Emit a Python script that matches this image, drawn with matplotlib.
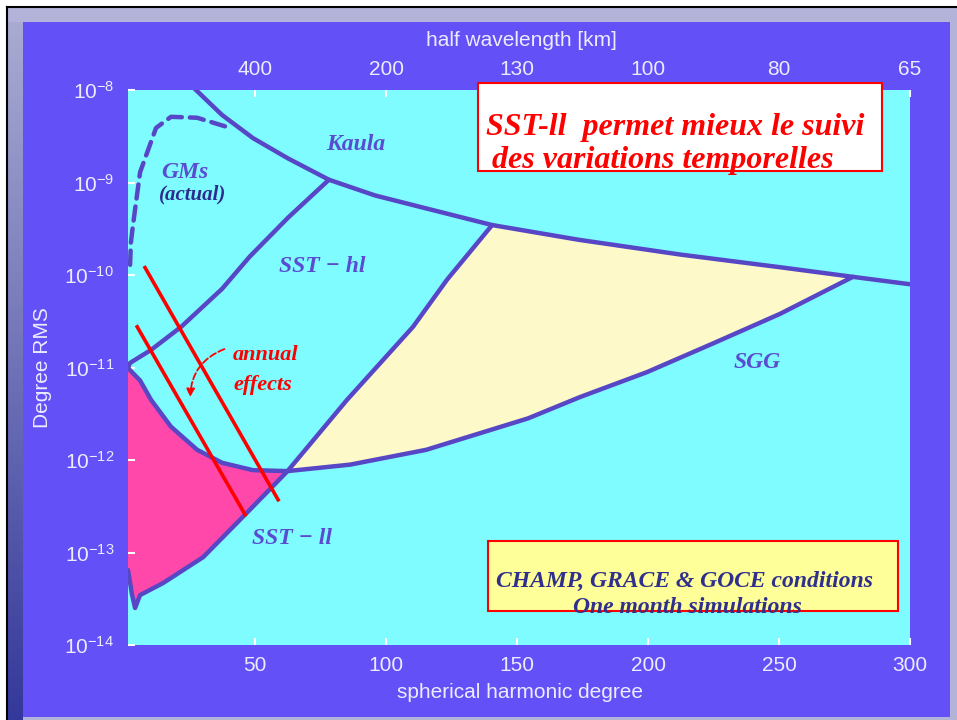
import numpy as np
import matplotlib
matplotlib.use('Agg')
import matplotlib.pyplot as plt
from matplotlib.patches import Rectangle

W, H = 957, 720

# curves: spherical harmonic degree vs log10(degree RMS)
kaula_deg = [20, 25.6, 37.4, 49.2, 62.6, 78.2, 95.8, 115.3, 140.5, 173.7, 212.6, 251.5,
             278.2, 300]
kaula_log = [-7.8, -7.95, -8.27, -8.52, -8.74, -8.97, -9.14, -9.28, -9.46, -9.62, -9.78,
             -9.92, -10.02, -10.10]

gms_deg = [2.3, 2.6, 3.4, 6.1, 12.2, 17.9, 27.9, 40.5]
gms_log = [-9.89, -9.65, -9.46, -8.89, -8.41, -8.29, -8.30, -8.41]

ssthl_deg = [1.8, 2.3, 10.3, 21.8, 37.4, 48.0, 62.6, 78.2]
ssthl_log = [-10.98, -10.95, -10.81, -10.56, -10.15, -9.80, -9.38, -8.97]

sgg_deg = [1.5, 2.3, 6.1, 10.3, 17.9, 27.9, 37.4, 49.2, 62.4, 86.3, 115.3, 135.9, 154.2,
           174, 199.6, 224.8, 250.4, 278.2]
sgg_log = [-11.0, -11.03, -11.14, -11.35, -11.64, -11.89, -12.03, -12.11, -12.12, -12.05,
           -11.89, -11.71, -11.55, -11.32, -11.05, -10.74, -10.42, -10.02]

sstll_deg = [1.5, 3.0, 4.2, 6.1, 14.9, 30.2, 46.9, 62.4, 85.1, 110.3, 123.3, 140.5]
sstll_log = [-13.19, -13.45, -13.6, -13.46, -13.33, -13.05, -12.57, -12.12, -11.35,
             -10.56, -10.05, -9.46]

# red "annual effects" lines
annual_hi_deg = [8.0, 58.8]
annual_hi_log = [-9.92, -12.43]
annual_lo_deg = [5.0, 46.2]
annual_lo_log = [-10.56, -12.59]

bottom_ticks = [50, 100, 150, 200, 250, 300]
top_labels = ['400', '200', '130', '100', '80', '65']

LINE = '#5746c6'
CYAN = '#7ffcff'
PINK = '#ff48aa'
YELLOW = '#fdf9c8'
PANEL = '#6351f7'
FRAME = '#b3b3d9'
TXT = '#ecebff'
SERIF = 'Liberation Serif'
SANS = 'Liberation Sans'

p = lambda v: list(10.0 ** np.asarray(v))

fig = plt.figure(figsize=(W / 100, H / 100), dpi=100)
fig.patch.set_facecolor('white')

# slide frame
fig.patches.append(Rectangle((7 / W, 0), 1 - 7 / W, 1 - 7 / H, transform=fig.transFigure,
                             facecolor=FRAME, edgecolor='none', zorder=-5))
grad_ax = fig.add_axes([8 / W, 0, 15 / W, 1 - 22 / H], zorder=-4)
grad = np.linspace(0, 1, 256)[:, None]
cmap = matplotlib.colors.LinearSegmentedColormap.from_list('g', ['#34389a', '#a9abd2'])
grad_ax.imshow(grad, aspect='auto', cmap=cmap, origin='lower')
grad_ax.axis('off')
fig.lines.append(plt.Line2D([7 / W, 1], [1 - 7 / H, 1 - 7 / H], transform=fig.transFigure,
                            color='black', lw=1.5, zorder=-3))
fig.lines.append(plt.Line2D([7 / W, 7 / W], [0, 1 - 7 / H], transform=fig.transFigure,
                            color='black', lw=1.5, zorder=-3))
fig.patches.append(Rectangle((23 / W, 3 / H), 927 / W, 695 / H, transform=fig.transFigure,
                             facecolor=PANEL, edgecolor='none', zorder=-2))

ax = fig.add_axes([128 / W, 75 / H, 782 / W, 555 / H], zorder=1)
ax.set_facecolor(CYAN)
ax.set_yscale('log')
ax.set_xlim(1.5, 300)
ax.set_ylim(1e-14, 1e-8)

# filled regions: pink between SGG and SST-ll up to their crossing,
# yellow between SST-ll, Kaula and SGG beyond it
ig = sgg_deg.index(62.4)
il = sstll_deg.index(62.4)
ik0 = kaula_deg.index(140.5)
ik1 = kaula_deg.index(278.2)
ax.fill(sgg_deg[:ig + 1] + sstll_deg[:il + 1][::-1],
        p(sgg_log[:ig + 1]) + p(sstll_log[:il + 1][::-1]),
        color=PINK, lw=0, zorder=1)
ax.fill(sstll_deg[il:] + kaula_deg[ik0:ik1 + 1] + sgg_deg[ig:][::-1],
        p(sstll_log[il:]) + p(kaula_log[ik0:ik1 + 1]) + p(sgg_log[ig:][::-1]),
        color=YELLOW, lw=0, zorder=1)

lw = 3.2
for xs, ys in [(kaula_deg, kaula_log), (ssthl_deg, ssthl_log),
               (sgg_deg, sgg_log), (sstll_deg, sstll_log)]:
    ax.plot(xs, p(ys), color=LINE, lw=lw, zorder=3, solid_joinstyle='round',
            solid_capstyle='round')
ax.plot(gms_deg, p(gms_log), color=LINE, lw=lw, ls=(0, (3.2, 1.8)), zorder=3,
        dash_capstyle='round', dash_joinstyle='round')

ax.plot(annual_hi_deg, p(annual_hi_log), color='#ff0000', lw=2.6, zorder=4)
ax.plot(annual_lo_deg, p(annual_lo_log), color='#ff0000', lw=2.6, zorder=4)
ax.annotate('', xy=(25.2, 10 ** -11.35), xytext=(39.3, 10 ** -10.79),
            arrowprops=dict(arrowstyle='-|>', color='#ff0000', lw=1.3, ls='--',
                            connectionstyle='arc3,rad=0.35', mutation_scale=12),
            zorder=4)

# ticks
ax.set_xticks(bottom_ticks)
ax.set_xticklabels([str(t) for t in bottom_ticks])
ax.tick_params(axis='x', which='both', direction='in', colors='white', labelcolor=TXT,
               labelsize=15, pad=8, length=5, width=1.5)
ax.tick_params(axis='y', which='major', direction='in', colors='white', labelcolor=TXT,
               labelsize=15, pad=10, length=5, width=1.5)
ax.tick_params(axis='y', which='minor', length=0)
for lab in ax.get_xticklabels() + ax.get_yticklabels():
    lab.set_family(SANS)
for s in ax.spines.values():
    s.set_visible(False)

top = ax.twiny()
top.set_xlim(ax.get_xlim())
top.set_xticks(bottom_ticks)
top.set_xticklabels(top_labels, family=SANS)
top.tick_params(axis='x', direction='in', colors='white', labelcolor=TXT, labelsize=15,
                pad=8, length=5, width=1.5)
for s in top.spines.values():
    s.set_visible(False)

# axis titles
fig.text(521 / W, 1 - 40 / H, 'half wavelength [km]', color=TXT, family=SANS, fontsize=15,
         ha='center', va='center')
fig.text(520 / W, 1 - 692 / H, 'spherical harmonic degree', color=TXT, family=SANS,
         fontsize=15, ha='center', va='center')
fig.text(43 / W, 1 - 368 / H, 'Degree RMS', color=TXT, family=SANS, fontsize=15,
         rotation=90, ha='center', va='center')

# curve labels
lab_kw = dict(family=SERIF, style='italic', weight='bold', color='#5a4cd0', fontsize=17,
              ha='center', va='center')
fig.text(356 / W, 1 - 145 / H, 'Kaula', **lab_kw)
fig.text(185 / W, 1 - 172 / H, 'GMs', **lab_kw)
fig.text(193 / W, 1 - 194 / H, '(actual)', family=SERIF, style='italic', weight='bold',
         color='#2c2c90', fontsize=15, ha='center', va='center')
fig.text(322 / W, 1 - 267 / H, 'SST \u2212 hl', **lab_kw)
fig.text(757 / W, 1 - 362 / H, 'SGG', **lab_kw)
fig.text(292 / W, 1 - 539 / H, 'SST \u2212 ll', **lab_kw)
fig.text(233 / W, 1 - 355 / H, 'annual', family=SERIF, style='italic', weight='bold',
         color='#ff0000', fontsize=16, ha='left', va='center')
fig.text(233 / W, 1 - 385 / H, 'effects', family=SERIF, style='italic', weight='bold',
         color='#ff0000', fontsize=16, ha='left', va='center')

# message boxes
fig.patches.append(Rectangle((478 / W, 1 - 171 / H), 404 / W, 88 / H,
                             transform=fig.transFigure, facecolor='white',
                             edgecolor='#ff0000', lw=1.5, zorder=5))
box_kw = dict(family=SERIF, style='italic', weight='bold', zorder=6, va='baseline')
fig.text(486 / W, 1 - 135 / H, 'SST-ll  permet mieux le suivi', color='#ff0000',
         fontsize=23, **box_kw)
fig.text(492 / W, 1 - 168 / H, 'des variations temporelles', color='#ff0000',
         fontsize=23, **box_kw)

fig.patches.append(Rectangle((488 / W, 1 - 611 / H), 410 / W, 70 / H,
                             transform=fig.transFigure, facecolor='#ffff99',
                             edgecolor='#ff0000', lw=1.5, zorder=5))
fig.text(496 / W, 1 - 587 / H, 'CHAMP, GRACE & GOCE conditions', color='#30308c',
         fontsize=17, **box_kw)
fig.text(573 / W, 1 - 613 / H, 'One month simulations', color='#30308c',
         fontsize=17, **box_kw)

fig.savefig('out.png', dpi=100)
